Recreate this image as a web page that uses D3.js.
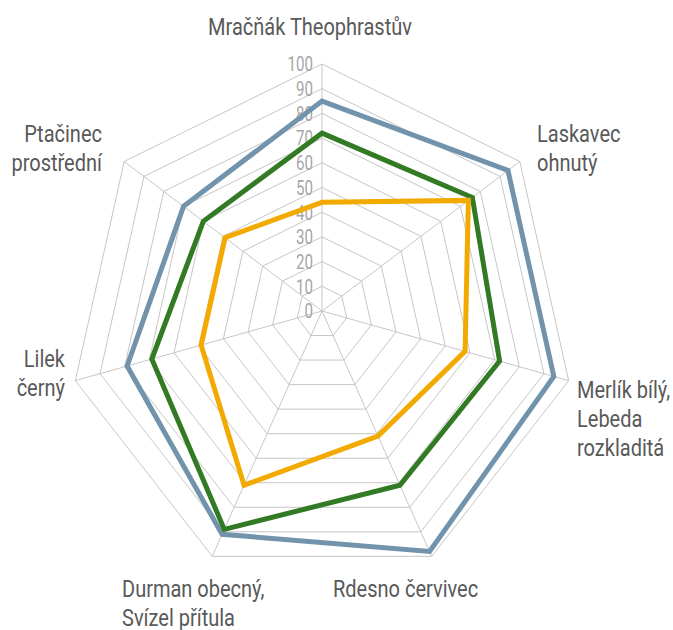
<!DOCTYPE html>
<html>
<head>
<meta charset="utf-8">
<script src="https://cdn.jsdelivr.net/npm/d3@7"></script>
<style>
    body { margin: 0; background: #fff; }
    #chart text { font-family: "Liberation Sans Narrow", "Arial Narrow", Roboto, sans-serif; }
</style>
</head>
<body>
<div id="chart"></div>
<script>
// categories go clockwise from the top
const categories = [
    "Mračňák Theophrastův",
    "Laskavec ohnutý",
    "Merlík bílý, Lebeda rozkladitá",
    "Rdesno červivec",
    "Durman obecný, Svízel přítula",
    "Lilek černý",
    "Ptačinec prostřední"
];
const tickValues = [0, 10, 20, 30, 40, 50, 60, 70, 80, 90, 100];

const seriesBlue = [85, 94, 94, 98, 91, 79, 70];
const seriesGreen = [72, 76, 72, 71, 89, 69, 60];
const seriesOrange = [44, 74, 58, 51, 71, 49, 49];

// label lines and where they sit (layout only)
const labelLayout = [
    {lines: ["Mračňák Theophrastův"], x: 310, y: 35, anchor: "middle"},
    {lines: ["Laskavec", "ohnutý"], x: 537, y: 142, anchor: "start"},
    {lines: ["Merlík bílý,", "Lebeda", "rozkladitá"], x: 577, y: 398, anchor: "start"},
    {lines: ["Rdesno červivec"], x: 333, y: 597, anchor: "start"},
    {lines: ["Durman obecný,", "Svízel přítula"], x: 122, y: 597, anchor: "start"},
    {lines: ["Lilek", "černý"], x: 65, y: 367, anchor: "end"},
    {lines: ["Ptačinec", "prostřední"], x: 102, y: 142, anchor: "end"}
];

const width = 673, height = 630;
const cx = 322, cy = 311;
const rx = 253, ry = 259;
const drift = 12; // the reference grid sits slightly lower as it widens
const squeeze = 0.87; // no condensed font installed, so narrow the text

const svg = d3.select("#chart").append("svg")
    .attr("width", width)
    .attr("height", height);

const r = d3.scaleLinear().domain([0, 100]).range([0, 1]);
const angle = d3.scaleLinear().domain([0, categories.length]).range([0, 2 * Math.PI]);

function project(i, v) {
    let t = r(v), a = angle(i);
    return [cx + rx * t * Math.sin(a), cy + drift * t - ry * t * Math.cos(a)];
}

const line = d3.line().curve(d3.curveLinearClosed);

// grid rings
svg.append("g")
    .selectAll("path")
    .data(tickValues.slice(1))
    .enter().append("path")
    .attr("d", d => line(categories.map((c, i) => project(i, d))))
    .attr("fill", "none")
    .attr("stroke", "#c6c6c6")
    .attr("stroke-width", 1);

// spokes
svg.append("g")
    .selectAll("line")
    .data(categories)
    .enter().append("line")
    .attr("x1", project(0, 0)[0])
    .attr("y1", project(0, 0)[1])
    .attr("x2", (d, i) => project(i, 100)[0])
    .attr("y2", (d, i) => project(i, 100)[1])
    .attr("stroke", "#c6c6c6")
    .attr("stroke-width", 1);

// tick labels along the top spoke
svg.append("g")
    .selectAll("text")
    .data(tickValues)
    .enter().append("text")
    .attr("transform", d => `translate(${project(0, 0)[0] - 9},${project(0, d)[1]}) scale(0.72,1)`)
    .attr("dy", "0.35em")
    .attr("text-anchor", "end")
    .attr("font-size", 21)
    .attr("fill", "#a6a6a6")
    .text(d => d);

// series
const series = [
    {values: seriesBlue, color: "#7193ab"},
    {values: seriesGreen, color: "#327b24"},
    {values: seriesOrange, color: "#f2aa00"}
];

svg.append("g")
    .selectAll("path")
    .data(series)
    .enter().append("path")
    .attr("d", s => line(s.values.map((v, i) => project(i, v))))
    .attr("fill", "none")
    .attr("stroke", s => s.color)
    .attr("stroke-width", 5)
    .attr("stroke-linejoin", "miter");

// category labels
let labels = svg.append("g")
    .selectAll("text")
    .data(labelLayout)
    .enter().append("text")
    .attr("transform", d => `translate(${d.x},${d.y}) scale(${squeeze},1)`)
    .attr("text-anchor", d => d.anchor)
    .attr("font-size", 23)
    .attr("fill", "#595959");

labels.selectAll("tspan")
    .data(d => d.lines)
    .enter().append("tspan")
    .attr("x", 0)
    .attr("dy", (d, i) => i == 0 ? 0 : 29)
    .text(d => d);
</script>
</body>
</html>
